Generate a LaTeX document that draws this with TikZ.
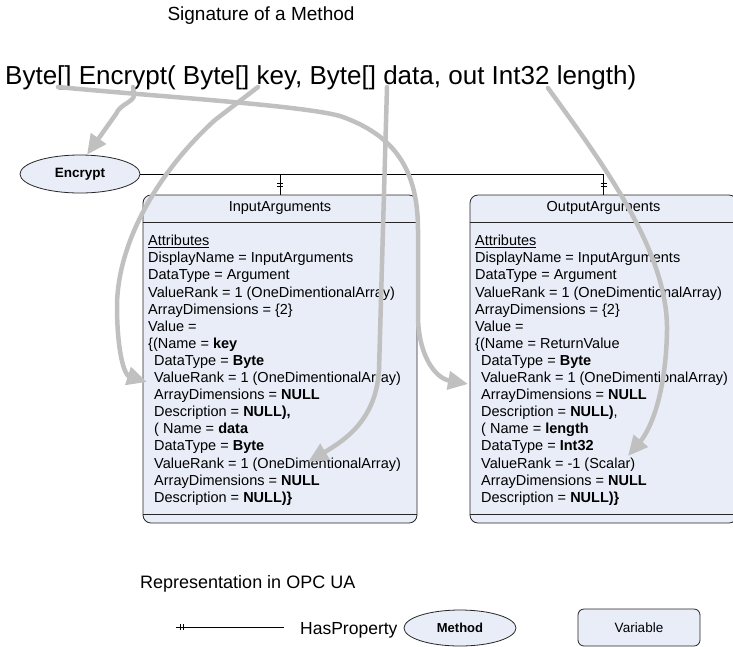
\documentclass[tikz,border=0pt]{standalone}
\usepackage{fontspec}
\setmainfont{Liberation Sans}
\usetikzlibrary{arrows.meta,shapes.geometric}
\definecolor{nodefill}{RGB}{232,237,247}
\definecolor{arrowgray}{RGB}{192,192,192}
\newcommand\myind{\hspace*{6pt}}
\begin{document}
\begin{tikzpicture}[x=1pt,y=-1pt,
  garrow/.style={draw=arrowgray,line width=4.5pt,line cap=round,-{Triangle[length=20pt,width=18pt]}},
  boxline/.style={draw=black!85,line width=0.8pt},
  varbox/.style={draw=black!85,line width=0.8pt,rounded corners=8pt,fill=nodefill,inner sep=0pt},
  methnode/.style={ellipse,draw=black!85,line width=0.8pt,fill=nodefill,inner sep=0pt},
  hdr/.style={font=\fontsize{14.5}{17}\selectfont,inner sep=0pt},
  bodytext/.style={font=\fontsize{14.5}{17.1}\selectfont,align=left,anchor=north west,inner sep=0pt},
  bigtext/.style={font=\fontsize{18}{21}\selectfont,inner sep=0pt},
  conn/.style={draw=black,line width=0.8pt}
]
\useasboundingbox (0,0) rectangle (733,646);
\clip (0,0) rectangle (733,646);

% titles
\node[font=\fontsize{19}{22}\selectfont,inner sep=0pt,anchor=base] (title) at (261,20) {Signature of a Method};
\node[font=\fontsize{26}{30}\selectfont,inner sep=0pt,anchor=base west] (sig) at (5,84)
  {Byte[] Encrypt( Byte[] key, Byte[] data, out Int32 length)};

% method
\node[methnode,minimum width=120pt,minimum height=38pt] (enc) at (80,174)
  {\fontsize{13.5}{15}\selectfont\bfseries Encrypt};

% input arguments box
\node[varbox,minimum width=274pt,minimum height=328pt] (inbox) at (280,359) {};
\draw[boxline] ([yshift=-28pt]inbox.north west) -- ([yshift=-28pt]inbox.north east);
\draw[boxline] ([yshift=9pt]inbox.south west) -- ([yshift=9pt]inbox.south east);
\node[hdr] (inhdr) at ([yshift=-13.5pt]inbox.north) {InputArguments};
\node[bodytext] (inbody) at (148,235) {%
\underline{Attributes}\\
DisplayName = InputArguments\\
DataType = Argument\\
ValueRank = 1 (OneDimentionalArray)\\
ArrayDimensions = \{2\}\\
Value =\\
\{(Name = \textbf{key}\\
\myind DataType = \textbf{Byte}\\
\myind ValueRank = 1 (OneDimentionalArray)\\
\myind ArrayDimensions = \textbf{NULL}\\
\myind Description = \textbf{NULL),}\\
\myind( Name = \textbf{data}\\
\myind DataType = \textbf{Byte}\\
\myind ValueRank = 1 (OneDimentionalArray)\\
\myind ArrayDimensions = \textbf{NULL}\\
\myind Description = \textbf{NULL)\}}};

% output arguments box
\node[varbox,minimum width=267pt,minimum height=328pt] (outbox) at (603.5,359) {};
\draw[boxline] ([yshift=-28pt]outbox.north west) -- ([yshift=-28pt]outbox.north east);
\draw[boxline] ([yshift=9pt]outbox.south west) -- ([yshift=9pt]outbox.south east);
\node[hdr] (outhdr) at ([yshift=-13.5pt]outbox.north) {OutputArguments};
\node[bodytext] (outbody) at (475,235) {%
\underline{Attributes}\\
DisplayName = InputArguments\\
DataType = Argument\\
ValueRank = 1 (OneDimentionalArray)\\
ArrayDimensions = \{2\}\\
Value =\\
\{(Name = ReturnValue\\
\myind DataType = \textbf{Byte}\\
\myind ValueRank = 1 (OneDimentionalArray)\\
\myind ArrayDimensions = \textbf{NULL}\\
\myind Description = \textbf{NULL)},\\
\myind( Name = \textbf{length}\\
\myind DataType = \textbf{Int32}\\
\myind ValueRank = -1 (Scalar)\\
\myind ArrayDimensions = \textbf{NULL}\\
\myind Description = \textbf{NULL)\}}};

% HasProperty connectors
\coordinate (jin) at (enc.east -| inbox.north);
\coordinate (jout) at (enc.east -| outbox.north);
\draw[conn] (enc.east) -- (jout) -- (outbox.north);
\draw[conn] (jin) -- (inbox.north);
\foreach \jx in {280,603.5}{
  \draw[conn,line width=0.7pt] (\jx-3,183.5) -- (\jx+3,183.5);
  \draw[conn,line width=0.7pt] (\jx-3,186.5) -- (\jx+3,186.5);
}

% gray mapping arrows
\coordinate (sret) at (58,87);
\coordinate (senc) at (133,87);
\coordinate (skey) at (258,87);
\coordinate (sdata) at (387,87);
\coordinate (slen) at (548,88);
\coordinate (tret) at (468,384);
\coordinate (tkey) at (147,382);
\coordinate (tdata) at (308,462);
\coordinate (tlen) at (628,456);

\draw[garrow] (sret) .. controls (150,96) and (300,105) .. (340,116)
   .. controls (395,135) and (418,170) .. (418,230) -- (418,315)
   .. controls (418,355) and (435,378) .. (tret);
\draw[garrow] (senc) -- (134,95) .. controls (134,102) and (120,104) .. (116,114) -- (enc.70);
\draw[garrow] (skey) -- (215,120) .. controls (160,170) and (118,240) .. (117,305)
   .. controls (117,355) and (125,375) .. (tkey);
\draw[garrow] (sdata) -- (379,370) .. controls (376,420) and (345,440) .. (tdata);
\draw[garrow] (slen) .. controls (600,160) and (668,250) .. (667,330)
   .. controls (666,395) and (650,430) .. (tlen);

% legend
\node[bigtext,anchor=base west] (reptitle) at (140,588) {Representation in OPC UA};
\coordinate (lgA) at (176,627);
\coordinate (lgB) at (284,627);
\draw[conn] (lgA) -- (lgB);
\draw[conn,line width=0.7pt] (180.5,624) -- (180.5,630);
\draw[conn,line width=0.7pt] (183.5,624) -- (183.5,630);
\node[font=\fontsize{17.5}{20}\selectfont,inner sep=0pt,anchor=west] (hasprop) at (300,630) {HasProperty};
\node[methnode,minimum width=112pt,minimum height=36pt] (legm) at (460,628)
  {\fontsize{13}{15}\selectfont\bfseries Method};
\node[varbox,rounded corners=6pt,minimum width=122pt,minimum height=37pt] (legv) at (639,627.5)
  {\fontsize{13.5}{15}\selectfont Variable};
\end{tikzpicture}
\end{document}
